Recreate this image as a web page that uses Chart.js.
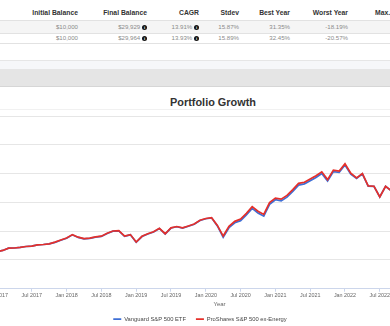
<!DOCTYPE html>
<html>
<head>
<meta charset="utf-8">
<script src="https://cdn.jsdelivr.net/npm/chart.js@4.4.1/dist/chart.umd.min.js"></script>
<style>
  html, body { margin: 0; padding: 0; }
  body { width: 390px; height: 326px; overflow: hidden; position: relative; background: #fff;
         font-family: "Liberation Sans", Arial, sans-serif; }
  .cell { position: absolute; white-space: nowrap; text-align: right; line-height: 8px; }
  .hd { font-weight: bold; font-size: 6.8px; color: #333; top: 9px; }
  .v { font-size: 6.1px; color: #8a8a8a; }
  .r1 { top: 23px; }
  .r2 { top: 34px; }
  .info { display: inline-block; width: 5px; height: 5px; border-radius: 50%; background: #111; color: #fff;
          font-size: 4.2px; line-height: 5px; text-align: center; font-weight: bold; margin-left: 1.8px; vertical-align: -0.3px; }
  .band { position: absolute; left: 0; width: 390px; }
  #title { position: absolute; left: 113px; width: 200px; top: 96px; text-align: center;
           font-weight: bold; font-size: 10.9px; line-height: 13px; color: #333; }
  #wrap { position: absolute; left: -60px; top: 110px; }
</style>
</head>
<body>
  <div class="band" style="top:20px;height:12px;background:#f5f5f5;border-top:1px solid #e2e2e2;border-bottom:1px solid #e2e2e2;"></div>
  <div class="band" style="top:43px;height:1px;background:#e2e2e2;"></div>

  <div class="cell hd" style="right:312px">Initial Balance</div>
  <div class="cell hd" style="right:243px">Final Balance</div>
  <div class="cell hd" style="right:191px">CAGR</div>
  <div class="cell hd" style="right:151px">Stdev</div>
  <div class="cell hd" style="right:100px">Best Year</div>
  <div class="cell hd" style="right:42px">Worst Year</div>
  <div class="cell hd" style="left:375px;text-align:left">Max. Drawdown</div>

  <div class="cell v r1" style="right:312px">$10,000</div>
  <div class="cell v r1" style="right:243px">$29,929<span class="info">i</span></div>
  <div class="cell v r1" style="right:191px">13.91%<span class="info">i</span></div>
  <div class="cell v r1" style="right:151px">15.87%</div>
  <div class="cell v r1" style="right:100px">31.35%</div>
  <div class="cell v r1" style="right:42px">-18.19%</div>

  <div class="cell v r2" style="right:312px">$10,000</div>
  <div class="cell v r2" style="right:243px">$29,964<span class="info">i</span></div>
  <div class="cell v r2" style="right:191px">13.93%<span class="info">i</span></div>
  <div class="cell v r2" style="right:151px">15.89%</div>
  <div class="cell v r2" style="right:100px">32.45%</div>
  <div class="cell v r2" style="right:42px">-20.57%</div>

  <div class="band" style="top:60px;height:1px;background:#e6e6e6;"></div>
  <div class="band" style="top:61px;height:8px;background:#f6f7f9;"></div>
  <div class="band" style="top:69px;height:17px;background:#e5e5e5;border-bottom:1px solid #d6d6d6;"></div>
  <div class="band" style="top:109px;height:1px;background:#f1f1f1;"></div>

  <div id="title">Portfolio Growth</div>
  <div id="wrap"><canvas id="growth" width="520" height="222"></canvas></div>

<script>
// monthly balance points, first one is Dec 2016; x counts months from Jan 2017
const firstMonth = -1;

const vanguard = [
  11200, 11420, 11650, 12050, 12070, 12180, 12330, 12400, 12600, 12680, 12800,
  13060, 13410, 13760, 14360, 13910, 13660, 13740, 13960, 14080, 14580, 14990, 15040,
  14110, 14360, 13060, 14060, 14510, 14860, 15460, 14510, 15540, 15760, 15520, 15860,
  16210, 16860, 17160, 17310,
  15900, 13950, 15600, 16450, 16820, 17800, 18950, 18150, 17600, 19650, 20450, 20250,
  20900, 21900, 23000, 23220, 23770, 24330, 25020, 23700, 25350, 25220, 26480, 24900,
  24150, 24950, 22830, 22780, 20950, 22800, 22000
];

const proshares = [
  11200, 11420, 11650, 12050, 12070, 12180, 12330, 12400, 12600, 12680, 12800,
  13100, 13450, 13800, 14400, 13950, 13700, 13780, 14000, 14120, 14620, 15030, 15080,
  14150, 14400, 13100, 14100, 14550, 14900, 15500, 14550, 15580, 15800, 15560, 15900,
  16250, 16900, 17200, 17350,
  16000, 14150, 15850, 16700, 17100, 18100, 19250, 18450, 17900, 19950, 20750, 20550,
  21200, 22200, 23300, 23500, 24050, 24620, 25300, 23950, 25600, 25450, 26700, 25050,
  24250, 25000, 22850, 22800, 20950, 22800, 22000
];

const seriesNames = ['Vanguard S&P 500 ETF', 'ProShares S&P 500 ex-Energy'];

// one tick every 6 months starting Jan 2017
const tickLabels = [
  'Jan 2017', 'Jul 2017', 'Jan 2018', 'Jul 2018', 'Jan 2019', 'Jul 2019', 'Jan 2020',
  'Jul 2020', 'Jan 2021', 'Jul 2021', 'Jan 2022', 'Jul 2022', 'Jan 2023'
];

const font = '"Liberation Sans", Arial, sans-serif';
const toPoints = vals => vals.map((v, i) => ({ x: firstMonth + i, y: v }));

new Chart(document.getElementById('growth'), {
  type: 'line',
  data: {
    datasets: [
      {
        label: seriesNames[0],
        data: toPoints(vanguard),
        borderColor: '#3e6fd6',
        backgroundColor: '#3e6fd6',
        borderWidth: 1.7,
        pointRadius: 0,
        tension: 0,
        order: 1
      },
      {
        label: seriesNames[1],
        data: toPoints(proshares),
        borderColor: '#e5302a',
        backgroundColor: '#e5302a',
        borderWidth: 1.7,
        pointRadius: 0,
        tension: 0,
        order: 0   // red drawn over blue
      }
    ]
  },
  options: {
    responsive: false,
    animation: false,
    layout: { padding: { top: 6, bottom: 0, left: 0, right: 0 } },
    plugins: {
      legend: {
        position: 'bottom',
        reverse: true,
        labels: {
          usePointStyle: true,
          pointStyle: 'line',
          pointStyleWidth: 8,
          boxHeight: 6,
          padding: 10,
          color: '#444',
          font: { family: font, size: 5.8 }
        }
      },
      tooltip: { enabled: false }
    },
    scales: {
      x: {
        type: 'linear',
        min: -3.1,
        max: 79.83,
        afterBuildTicks: s => { s.ticks = tickLabels.map((_, i) => ({ value: i * 6 })); },
        ticks: {
          callback: v => tickLabels[v / 6],
          autoSkip: false,
          maxRotation: 0,
          color: '#666',
          padding: 0.5,
          font: { family: font, size: 5.4 }
        },
        grid: { drawOnChartArea: false, tickLength: 3, color: '#ccd6eb' },
        border: { color: '#ccd6eb' },
        title: {
          display: true,
          text: 'Year',
          color: '#666',
          padding: { top: 1.5, bottom: -1.7 },
          font: { family: font, size: 6 }
        }
      },
      y: {
        min: 5000,
        max: 35000,
        afterFit: s => { s.width = 39; },
        ticks: { stepSize: 5000, display: false },
        grid: { color: '#e6e6e6', drawTicks: false },
        border: { display: false }
      }
    }
  }
});
</script>
</body>
</html>
